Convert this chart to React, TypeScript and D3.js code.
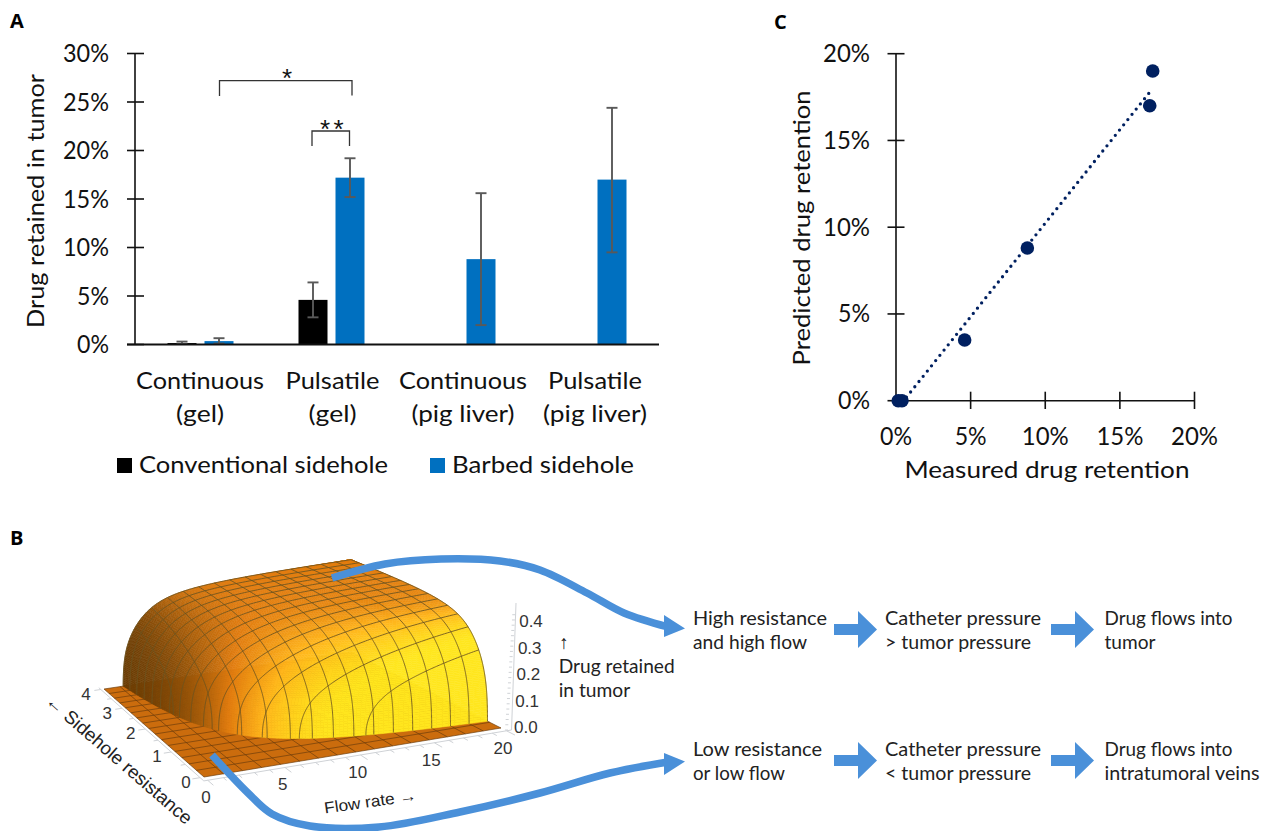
import React from "react";
import * as d3 from "d3";

// ---------- Panel A data ----------
const categories = ["Continuous|(gel)", "Pulsatile|(gel)", "Continuous|(pig liver)", "Pulsatile|(pig liver)"];
const categoryWidths = [[128, 48], [94, 48], [128, 103], [94, 104]];
const seriesNames = ["Conventional sidehole", "Barbed sidehole"];
const conventional = [0.15, 4.6, null, null];
const conventionalLow = [0.05, 2.8, null, null];
const conventionalHigh = [0.3, 6.4, null, null];
const barbed = [0.35, 17.2, 8.8, 17.0];
const barbedLow = [0.1, 15.2, 2.0, 9.5];
const barbedHigh = [0.65, 19.2, 15.6, 24.4];
const yTicksA = [0, 5, 10, 15, 20, 25, 30];

// ---------- Panel C data ----------
const measured = [0.15, 0.4, 4.6, 8.8, 17.0, 17.2];
const predicted = [0, 0, 3.5, 8.8, 17.0, 19.0];
const trendX = [0.7, 17.2];
const trendY = [0.2, 18.0];
const ticksC = [0, 5, 10, 15, 20];

// ---------- Panel B data ----------
const surfaceHeights = [0, 0.08, 0.14, 0.19, 0.24, 0.29, 0.34, 0.38, 0.405, 0.42, 0.43];
const flowTicks = [0, 5, 10, 15, 20];
const resistanceTicks = [0, 1, 2, 3, 4];
const heightTicks = [0, 0.1, 0.2, 0.3, 0.4];
const pathwayRows = [
  ["High resistance|and high flow", "Catheter pressure|> tumor pressure", "Drug flows into|tumor"],
  ["Low resistance|or low flow", "Catheter pressure|< tumor pressure", "Drug flows into|intratumoral veins"],
];
const pathwayWidths = [
  [[134, 114], [156, 146], [128, 51]],
  [[129, 92], [156, 146], [128, 155]],
];

const FONT = "Lato, sans-serif";
const ARIAL = "'Liberation Sans', sans-serif";
const BLUE = "#0070c0";
const NAVY = "#002060";
const ARROW = "#4a90d9";

function T({ x, y, w, size = 24, anchor = "start", fill = "#111", font = FONT, weight = 400, rotate, children }: any) {
  const transform = rotate != null ? `rotate(${rotate} ${x} ${y})` : undefined;
  const extra = w ? { textLength: w, lengthAdjust: "spacingAndGlyphs" } : {};
  return (
    <text x={x} y={y} fontSize={size} textAnchor={anchor} fill={fill} fontFamily={font} fontWeight={weight} transform={transform} {...extra}>
      {children}
    </text>
  );
}

const corners = [[204, 777], [501, 728], [351, 652], [104, 689]];
function makeProjection() {
  const [[x0, y0], [x1, y1], [x2, y2], [x3, y3]] = corners;
  const sx = x0 - x1 + x2 - x3, sy = y0 - y1 + y2 - y3;
  const dx1 = x1 - x2, dx2 = x3 - x2, dy1 = y1 - y2, dy2 = y3 - y2;
  const den = dx1 * dy2 - dx2 * dy1;
  const g = (sx * dy2 - dx2 * sy) / den;
  const h = (dx1 * sy - sx * dy1) / den;
  const a = x1 - x0 + g * x1, b = x3 - x0 + h * x3, d = y1 - y0 + g * y1, e = y3 - y0 + h * y3;
  const zk = 262;
  return (flow: number, res: number, z = 0): [number, number] => {
    const u = flow / 20, v = res / 4;
    const w = g * u + h * v + 1;
    const s = (g + 1) / w;
    return [(a * u + b * v + x0) / w, (d * u + e * v + y0) / w - z * zk * s];
  };
}
const proj = makeProjection();

const P0 = 6, P1 = 80;
const basis = d3.interpolateBasis(surfaceHeights);
function heightAt(p: number) {
  if (p <= P0) return 0;
  return basis(Math.min(1, Math.sqrt(Math.log(p / P0) / Math.log(P1 / P0))));
}
const productAt = (s: number, top = P1) => P0 * Math.pow(top / P0, s * s);

const shade = d3.scaleLinear<string>()
  .domain([-0.1, 0.45, 0.82, 1.25])
  .range(["#6b3d05", "#e27d10", "#ffb51c", "#ffe61e"])
  .interpolate(d3.interpolateRgb)
  .clamp(true);

function surfaceQuads() {
  const nP = 80, nT = 110;
  const quads: { d: string; c: string }[] = [];
  const fAt = (p: number, t: number) => (p / 4) * Math.pow(80 / p, t);
  for (let i = nP - 1; i >= 0; i--) {
    const p0 = productAt(i / nP), p1 = productAt((i + 1) / nP);
    const z0 = heightAt(p0), z1 = heightAt(p1);
    const slope = (z1 - z0) / (p1 - p0);
    for (let j = 0; j < nT; j++) {
      const t0 = j / nT, t1 = (j + 1) / nT;
      const fm = fAt((p0 + p1) / 2, (t0 + t1) / 2);
      const rm = (p0 + p1) / 2 / fm;
      const dzx = slope * rm * 20 * 1.6, dzy = slope * fm * 4 * 1.6;
      const len = Math.hypot(dzx, dzy, 1);
      const nx = dzx / len, ny = dzy / len;
      const L = 0.45 + 1.0 * Math.pow(ny, 1.2) - 0.6 * Math.pow(nx, 1.2);
      const a = fAt(p0, t0), b = fAt(p0, t1), c = fAt(p1, t1), d = fAt(p1, t0);
      const pts = [proj(a, p0 / a, z0), proj(b, p0 / b, z0), proj(c, p1 / c, z1), proj(d, p1 / d, z1)];
      quads.push({ d: "M" + pts.map((q) => q[0].toFixed(2) + "," + q[1].toFixed(2)).join("L") + "Z", c: shade(L) });
    }
  }
  return quads;
}

function surfaceLines() {
  const line = d3.line();
  const out: string[] = [];
  const samples = 160;
  const gridF = d3.range(1, 17).map((q) => q * 1.25);
  const gridR = d3.range(1, 17).map((q) => q * 0.25);
  gridF.forEach((f) => {
    const top = f * 4;
    if (top <= P0) return;
    out.push(line(d3.range(samples + 1).map((k) => {
      const p = productAt(k / samples, top);
      return proj(f, p / f, heightAt(p));
    }))!);
  });
  gridR.forEach((r) => {
    const top = r * 20;
    if (top <= P0) return;
    out.push(line(d3.range(samples + 1).map((k) => {
      const p = productAt(k / samples, top);
      return proj(p / r, r, heightAt(p));
    }))!);
  });
  return out;
}

function BlockArrow({ x, cy }: { x: number; cy: number }) {
  const d = `M${x},${cy - 5.5}H${x + 24}V${cy - 18.5}L${x + 43},${cy}L${x + 24},${cy + 18.5}V${cy + 5.5}H${x}Z`;
  return <path d={d} fill={ARROW} />;
}

function PanelA() {
  const y = d3.scaleLinear().domain([0, 30]).range([344.5, 53.5]);
  const x = d3.scaleBand().domain(categories).range([135, 659]);
  const inner = d3.scaleBand().domain(seriesNames).range([-33, 33]).paddingInner(8 / 37);
  const series = [
    { name: seriesNames[0], v: conventional, lo: conventionalLow, hi: conventionalHigh, c: "#000" },
    { name: seriesNames[1], v: barbed, lo: barbedLow, hi: barbedHigh, c: BLUE },
  ];
  return (
    <g>
      <T x={10} y={28} size={20} font={"'Open Sans', sans-serif"} weight={700} fill="#000">A</T>
      {series.map((s) =>
        categories.map((c, i) => {
          const v = s.v[i];
          if (v == null) return null;
          const left = x(c)! + x.bandwidth() / 2 + inner(s.name)!;
          const cx = left + inner.bandwidth() / 2;
          return (
            <g key={s.name + c}>
              <rect x={left} y={y(v)} width={inner.bandwidth()} height={y(0) - y(v)} fill={s.c} />
              <g stroke="#595959" strokeWidth={1.9} fill="none">
                <line x1={cx} x2={cx} y1={y(s.lo[i]!)} y2={y(s.hi[i]!)} />
                <line x1={cx - 5.5} x2={cx + 5.5} y1={y(s.lo[i]!)} y2={y(s.lo[i]!)} />
                <line x1={cx - 5.5} x2={cx + 5.5} y1={y(s.hi[i]!)} y2={y(s.hi[i]!)} />
              </g>
            </g>
          );
        })
      )}
      <line x1={135} x2={135} y1={y(30)} y2={y(0)} stroke="#111" strokeWidth={1.6} />
      <line x1={127} x2={659} y1={y(0)} y2={y(0)} stroke="#111" strokeWidth={1.8} />
      {yTicksA.map((t) => (
        <g key={t}>
          <line x1={127} x2={144} y1={y(t)} y2={y(t)} stroke="#111" strokeWidth={1.6} />
          <T x={109} y={y(t) + 8.5} anchor="end" size={25} w={t < 10 ? 32 : 46}>{t}%</T>
        </g>
      ))}
      <T x={44} y={201} anchor="middle" size={24} rotate={-90} w={254}>Drug retained in tumor</T>
      {categories.map((c, i) => {
        const [a, b] = c.split("|");
        const cx = [200, 332.5, 463, 595][i];
        return (
          <g key={c}>
            <T x={cx} y={389} anchor="middle" w={categoryWidths[i][0]}>{a}</T>
            <T x={cx} y={422} anchor="middle" w={categoryWidths[i][1]}>{b}</T>
          </g>
        );
      })}
      <rect x={117} y={458} width={15} height={15} fill="#000" />
      <T x={139} y={473} w={249}>{seriesNames[0]}</T>
      <rect x={430} y={458} width={15} height={15} fill={BLUE} />
      <T x={452} y={473} w={182}>{seriesNames[1]}</T>
      <path d="M219.5,96V80.7H352V95.5" fill="none" stroke="#333" strokeWidth={1.3} />
      <path d="M312,146V131H349.5V146" fill="none" stroke="#333" strokeWidth={1.3} />
      <T x={287} y={87} anchor="middle" size={26} font={ARIAL} fill="#111">*</T>
      <T x={325} y={138} anchor="middle" size={26} font={ARIAL} fill="#111">*</T>
      <T x={338.5} y={138} anchor="middle" size={26} font={ARIAL} fill="#111">*</T>
    </g>
  );
}

function PanelC() {
  const x = d3.scaleLinear().domain([0, 20]).range([896, 1194.5]);
  const y = d3.scaleLinear().domain([0, 20]).range([400.7, 53.7]);
  return (
    <g>
      <T x={774} y={29} size={20} font={"'Open Sans', sans-serif"} weight={700} fill="#000">C</T>
      <line x1={x(0)} x2={x(0)} y1={y(20)} y2={y(0)} stroke="#111" strokeWidth={1.6} />
      <line x1={x(0)} x2={x(20)} y1={y(0)} y2={y(0)} stroke="#111" strokeWidth={1.6} />
      {ticksC.map((t) => (
        <g key={t}>
          <line x1={887.5} x2={904.5} y1={y(t)} y2={y(t)} stroke="#111" strokeWidth={1.6} />
          {t > 0 && <line x1={x(t)} x2={x(t)} y1={391.7} y2={409} stroke="#111" strokeWidth={1.6} />}
          <T x={870} y={y(t) + 8.5} anchor="end" size={25} w={t < 10 ? 32 : 47}>{t}%</T>
          <T x={x(t)} y={445} anchor="middle" size={25} w={t < 10 ? 32 : 47}>{t}%</T>
        </g>
      ))}
      <line x1={x(trendX[0])} y1={y(trendY[0])} x2={x(trendX[1])} y2={y(trendY[1])} stroke={NAVY} strokeWidth={3.3} strokeLinecap="round" strokeDasharray="0 6.7" />
      {measured.map((m, i) => (
        <circle key={i} cx={x(m)} cy={y(predicted[i])} r={6.8} fill={NAVY} />
      ))}
      <T x={1047} y={478} anchor="middle" w={285}>Measured drug retention</T>
      <T x={810} y={228} anchor="middle" rotate={-90} w={275}>Predicted drug retention</T>
    </g>
  );
}

function PanelB() {
  const quads = React.useMemo(surfaceQuads, []);
  const lines = React.useMemo(surfaceLines, []);
  const seg = (a: [number, number], b: [number, number]) => d3.line()([a, b])!;
  const floorPath = d3.line()([proj(0, 0), proj(20, 0), proj(20, 4), proj(0, 4)])! + "Z";
  const curve = d3.line().curve(d3.curveCatmullRom.alpha(0.5));
  const arrowTop: [number, number][] = [[332, 578], [385, 564], [441, 559], [500, 561], [540, 570], [587, 593], [624, 613], [668, 627]];
  const arrowBottom: [number, number][] = [[212, 755], [248, 793], [272, 814], [310, 826], [379, 827], [460, 812], [540, 793], [610, 773], [668, 762]];
  return (
    <g>
      <T x={10} y={545} size={20} font={"'Open Sans', sans-serif"} weight={700} fill="#000">B</T>
      <g stroke="#cfd2d6" strokeWidth={1} fill="none">
        <path d={d3.line()([proj(-0.25, 4.1), proj(-0.25, -0.12), proj(20.35, -0.12)])!} />
        <path d={seg(proj(20.35, -0.12), [516, 603])} />
        {d3.range(0, 21).map((f) => <path key={f} d={seg(proj(f, -0.12), proj(f, f % 5 === 0 ? -0.3 : -0.22))} />)}
        {d3.range(0, 4.01, 0.5).map((r) => <path key={r} d={seg(proj(-0.25, r), proj(r % 1 === 0 ? -0.75 : -0.55, r))} />)}
        {d3.range(0, 0.46, 0.02).map((z) => {
          const yy = 730 - z * 262;
          const xx = 508 + (730 - yy) * 8 / 127;
          return <path key={z} d={seg([xx, yy], [xx - 3, yy])} />;
        })}
      </g>
      <path d={floorPath} fill="#cb6c0d" />
      <g stroke="#6a3c0c" strokeOpacity={0.75} strokeWidth={0.9}>
        {d3.range(0, 17).map((q) => <path key={q} d={seg(proj(q * 1.25, 0), proj(q * 1.25, 4))} />)}
        {d3.range(0, 17).map((q) => <path key={q} d={seg(proj(0, q * 0.25), proj(20, q * 0.25))} />)}
      </g>
      {quads.map((q, i) => <path key={i} d={q.d} fill={q.c} stroke={q.c} strokeWidth={0.5} />)}
      {lines.map((d, i) => <path key={i} d={d} fill="none" stroke="#6b5320" strokeOpacity={0.85} strokeWidth={1} />)}

      {flowTicks.map((t) => {
        const p = proj(t, 0);
        return <T key={t} x={p[0] + 2} y={p[1] + 26} anchor="middle" size={17} font={ARIAL} fill="#333">{t}</T>;
      })}
      {resistanceTicks.map((t) => {
        const p = proj(0, t);
        return <T key={t} x={p[0] - 18} y={p[1] + 11} anchor="middle" size={17} font={ARIAL} fill="#333">{t}</T>;
      })}
      {heightTicks.map((t) => (
        <T key={t} x={514 + t * 13} y={733 - t * 264} size={17} font={ARIAL} fill="#333">{t.toFixed(1)}</T>
      ))}
      <T x={371} y={807} anchor="middle" size={16} font={ARIAL} fill="#222" rotate={-8} w={93}>Flow rate →</T>
      <T x={115} y={764} anchor="middle" size={18.5} font={ARIAL} fill="#222" rotate={41} w={187}>← Sidehole resistance</T>
      <T x={564} y={649} anchor="middle" size={19} font={ARIAL} fill="#222">↑</T>
      <T x={558.7} y={672.7} size={19} fill="#222" w={116}>Drug retained</T>
      <T x={558.7} y={696.7} size={19} fill="#222" w={71.5}>in tumor</T>

      <path d={curve(arrowTop)!} fill="none" stroke={ARROW} strokeWidth={7.5} />
      <path d={curve(arrowBottom)!} fill="none" stroke={ARROW} strokeWidth={7.5} />
      <path d="M664,615L685,628.5L664,637Z" fill={ARROW} />
      <path d="M664,753L685,761.5L664,775Z" fill={ARROW} />

      {pathwayRows.map((row, ri) => (
        <g key={ri}>
          {row.map((cell, ci) => {
            const [a, b] = cell.split("|");
            const tx = [693, 885, 1104.5][ci];
            const by = ri === 0 ? 625 : 756;
            return (
              <g key={ci}>
                <T x={tx} y={by} size={19} fill="#222" w={pathwayWidths[ri][ci][0]}>{a}</T>
                <T x={tx} y={by + 24} size={19} fill="#222" w={pathwayWidths[ri][ci][1]}>{b}</T>
              </g>
            );
          })}
          <BlockArrow x={834} cy={ri === 0 ? 629.5 : 760.5} />
          <BlockArrow x={1051} cy={ri === 0 ? 629.5 : 760.5} />
        </g>
      ))}
    </g>
  );
}

export default function App() {
  return (
    <svg width={1273} height={831} viewBox="0 0 1273 831" style={{ position: "absolute", left: 0, top: 0, display: "block", background: "#fff" }}>
      <PanelA />
      <PanelC />
      <PanelB />
    </svg>
  );
}
